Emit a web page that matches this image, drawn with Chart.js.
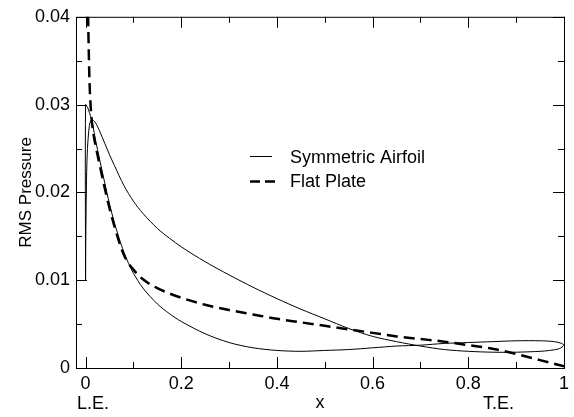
<!DOCTYPE html>
<html>
<head>
<meta charset="utf-8">
<script src="https://cdn.jsdelivr.net/npm/chart.js@4"></script>
<style>
  body { margin: 0; background: #fff; }
  canvas { display: block; }
</style>
</head>
<body>
<canvas id="chart" width="574" height="417"></canvas>
<script>
// symmetric airfoil: closed loop, LE -> lower surface -> TE -> upper surface -> LE
const airfoilX = [0, 0, 0.004, 0.008, 0.012, 0.016, 0.02, 0.03, 0.04, 0.05, 0.06, 0.07, 0.08, 0.09, 0.1, 0.12, 0.15, 0.175, 0.2, 0.25, 0.3, 0.35, 0.4, 0.45, 0.5, 0.55, 0.6, 0.65, 0.7, 0.75, 0.8, 0.85, 0.9, 0.95, 0.98, 0.995, 1.0,
  0.99, 0.97, 0.95, 0.9, 0.85, 0.8, 0.75, 0.7, 0.65, 0.6, 0.55, 0.5, 0.45, 0.4, 0.35, 0.3, 0.25, 0.2, 0.175, 0.15, 0.12, 0.1, 0.08, 0.06, 0.05, 0.04, 0.03, 0.02, 0.0125, 0.008, 0.004, 0.002, 0.0005, 0];
const airfoilY = [0.0100, 0.0300, 0.0297, 0.0291, 0.0284, 0.0274, 0.0262, 0.0236, 0.0211, 0.0187, 0.0166, 0.0148, 0.0132, 0.0119, 0.0108, 0.0091, 0.0073, 0.0062, 0.0053, 0.0039, 0.0029, 0.0023, 0.0020, 0.0019, 0.0020, 0.0021, 0.0023, 0.0025, 0.0026, 0.0028, 0.0029, 0.0030, 0.0031, 0.0031, 0.0030, 0.0028, 0.0026,
  0.0022, 0.0020, 0.0019, 0.0018, 0.0018, 0.0019, 0.0021, 0.0025, 0.0030, 0.0036, 0.0045, 0.0056, 0.0067, 0.0079, 0.0092, 0.0106, 0.0121, 0.0138, 0.0148, 0.0159, 0.0176, 0.0190, 0.0208, 0.0231, 0.0243, 0.0256, 0.0269, 0.0280, 0.0283, 0.0276, 0.0250, 0.0215, 0.0150, 0.0100];

const plateX = [0.004, 0.005, 0.006, 0.008, 0.011, 0.015, 0.02, 0.03, 0.04, 0.05, 0.06, 0.07, 0.08, 0.09, 0.1, 0.12, 0.15, 0.2, 0.25, 0.3, 0.35, 0.4, 0.45, 0.5, 0.55, 0.6, 0.65, 0.7, 0.75, 0.8, 0.85, 0.9, 0.95, 1.0];
const plateY = [0.046, 0.041, 0.038, 0.033, 0.0295, 0.0272, 0.0256, 0.0230, 0.0205, 0.0182, 0.0162, 0.0144, 0.0129, 0.0119, 0.0112, 0.0101, 0.0091, 0.0080, 0.0072, 0.0066, 0.0061, 0.0056, 0.0052, 0.0048, 0.0044, 0.0040, 0.0036, 0.0033, 0.0030, 0.0026, 0.0022, 0.0016, 0.0009, 0.0002];

const xTicks = [0, 0.2, 0.4, 0.6, 0.8, 1];
const xTickLabels = ["0", "0.2", "0.4", "0.6", "0.8", "1"];
const xMinor = [0.1, 0.3, 0.5, 0.7, 0.9];
const yTicks = [0, 0.01, 0.02, 0.03, 0.04];
const yTickLabels = ["0", "0.01", "0.02", "0.03", "0.04"];
const yMinor = [0.005, 0.015, 0.025, 0.035];

const FONT = "'Liberation Sans', Arial, sans-serif";

const frame = {
  id: 'frame',
  afterDatasetsDraw(chart){
    const {ctx, chartArea: a, scales: {x, y}} = chart;
    ctx.save();
    ctx.strokeStyle = '#000';
    ctx.lineWidth = 1;
    ctx.setLineDash([]);
    ctx.strokeRect(a.left + 0.5, a.top + 0.5, a.right - a.left, a.bottom - a.top);

    function seg(x1, y1, x2, y2){
      ctx.beginPath(); ctx.moveTo(x1, y1); ctx.lineTo(x2, y2); ctx.stroke();
    }
    function xt(v, len){
      const p = Math.round(x.getPixelForValue(v)) + 0.5;
      seg(p, a.bottom, p, a.bottom - len);
      seg(p, a.top, p, a.top + len);
    }
    function yt(v, len){
      const p = Math.round(y.getPixelForValue(v)) + 0.5;
      seg(a.left, p, a.left + len, p);
      seg(a.right, p, a.right - len, p);
    }
    xTicks.forEach(v => xt(v, 11));
    xMinor.forEach(v => xt(v, 6));
    yTicks.forEach(v => yt(v, 11));
    yMinor.forEach(v => yt(v, 6));

    // legend
    ctx.lineWidth = 1;
    seg(250, 156.5, 272, 156.5);
    ctx.lineWidth = 2.5;
    ctx.setLineDash([10, 5]);
    seg(250, 181.5, 276, 181.5);
    ctx.setLineDash([]);
    ctx.fillStyle = '#000';
    ctx.font = '18px ' + FONT;
    ctx.textBaseline = 'alphabetic';
    ctx.textAlign = 'left';
    ctx.fillText('Symmetric Airfoil', 290, 163);
    ctx.fillText('Flat Plate', 290, 187);

    // leading / trailing edge marks under the axis
    ctx.fillText('L.E.', 77, 409);
    ctx.fillText('T.E.', 483, 409);
    ctx.restore();
  }
};

new Chart(document.getElementById('chart'), {
  type: 'line',
  data: {
    datasets: [{
      label: 'Symmetric Airfoil',
      data: airfoilX.map((v, i) => ({x: v, y: airfoilY[i]})),
      borderColor: '#000',
      borderWidth: 1,
      pointRadius: 0,
      tension: 0.3,
      fill: false
    }, {
      label: 'Flat Plate',
      data: plateX.map((v, i) => ({x: v, y: plateY[i]})),
      borderColor: '#000',
      borderWidth: 2.5,
      borderDash: [11, 6],
      pointRadius: 0,
      cubicInterpolationMode: 'monotone',
      fill: false
    }]
  },
  options: {
    responsive: false,
    animation: false,
    devicePixelRatio: 1,
    layout: { padding: { top: 12, right: 8, left: 0, bottom: 0 } },
    plugins: { legend: { display: false }, tooltip: { enabled: false } },
    scales: {
      x: {
        type: 'linear',
        min: -0.02,
        max: 1,
        afterBuildTicks: s => { s.ticks = xTicks.map(v => ({value: v})); },
        afterFit: s => { s.height = 49; },
        grid: { display: false, drawTicks: false },
        border: { display: false },
        ticks: {
          padding: 5,
          color: '#000',
          font: { family: FONT, size: 18 },
          maxRotation: 0,
          autoSkip: false,
          callback: v => xTickLabels[xTicks.indexOf(v)]
        },
        title: {
          display: true,
          text: 'x',
          color: '#000',
          font: { family: FONT, size: 18 },
          padding: { top: 0, bottom: 3 }
        }
      },
      y: {
        type: 'linear',
        min: 0,
        max: 0.04,
        afterBuildTicks: s => { s.ticks = yTicks.map(v => ({value: v})); },
        afterFit: s => { s.width = 76; },
        grid: { display: false, drawTicks: false },
        border: { display: false },
        ticks: {
          padding: 6,
          color: '#000',
          font: { family: FONT, size: 18 },
          autoSkip: false,
          callback: v => yTickLabels[yTicks.indexOf(v)]
        },
        title: {
          display: true,
          text: 'RMS Pressure',
          color: '#000',
          font: { family: FONT, size: 17 },
          padding: { top: 16, bottom: 0 }
        }
      }
    }
  },
  plugins: [frame]
});
</script>
</body>
</html>
